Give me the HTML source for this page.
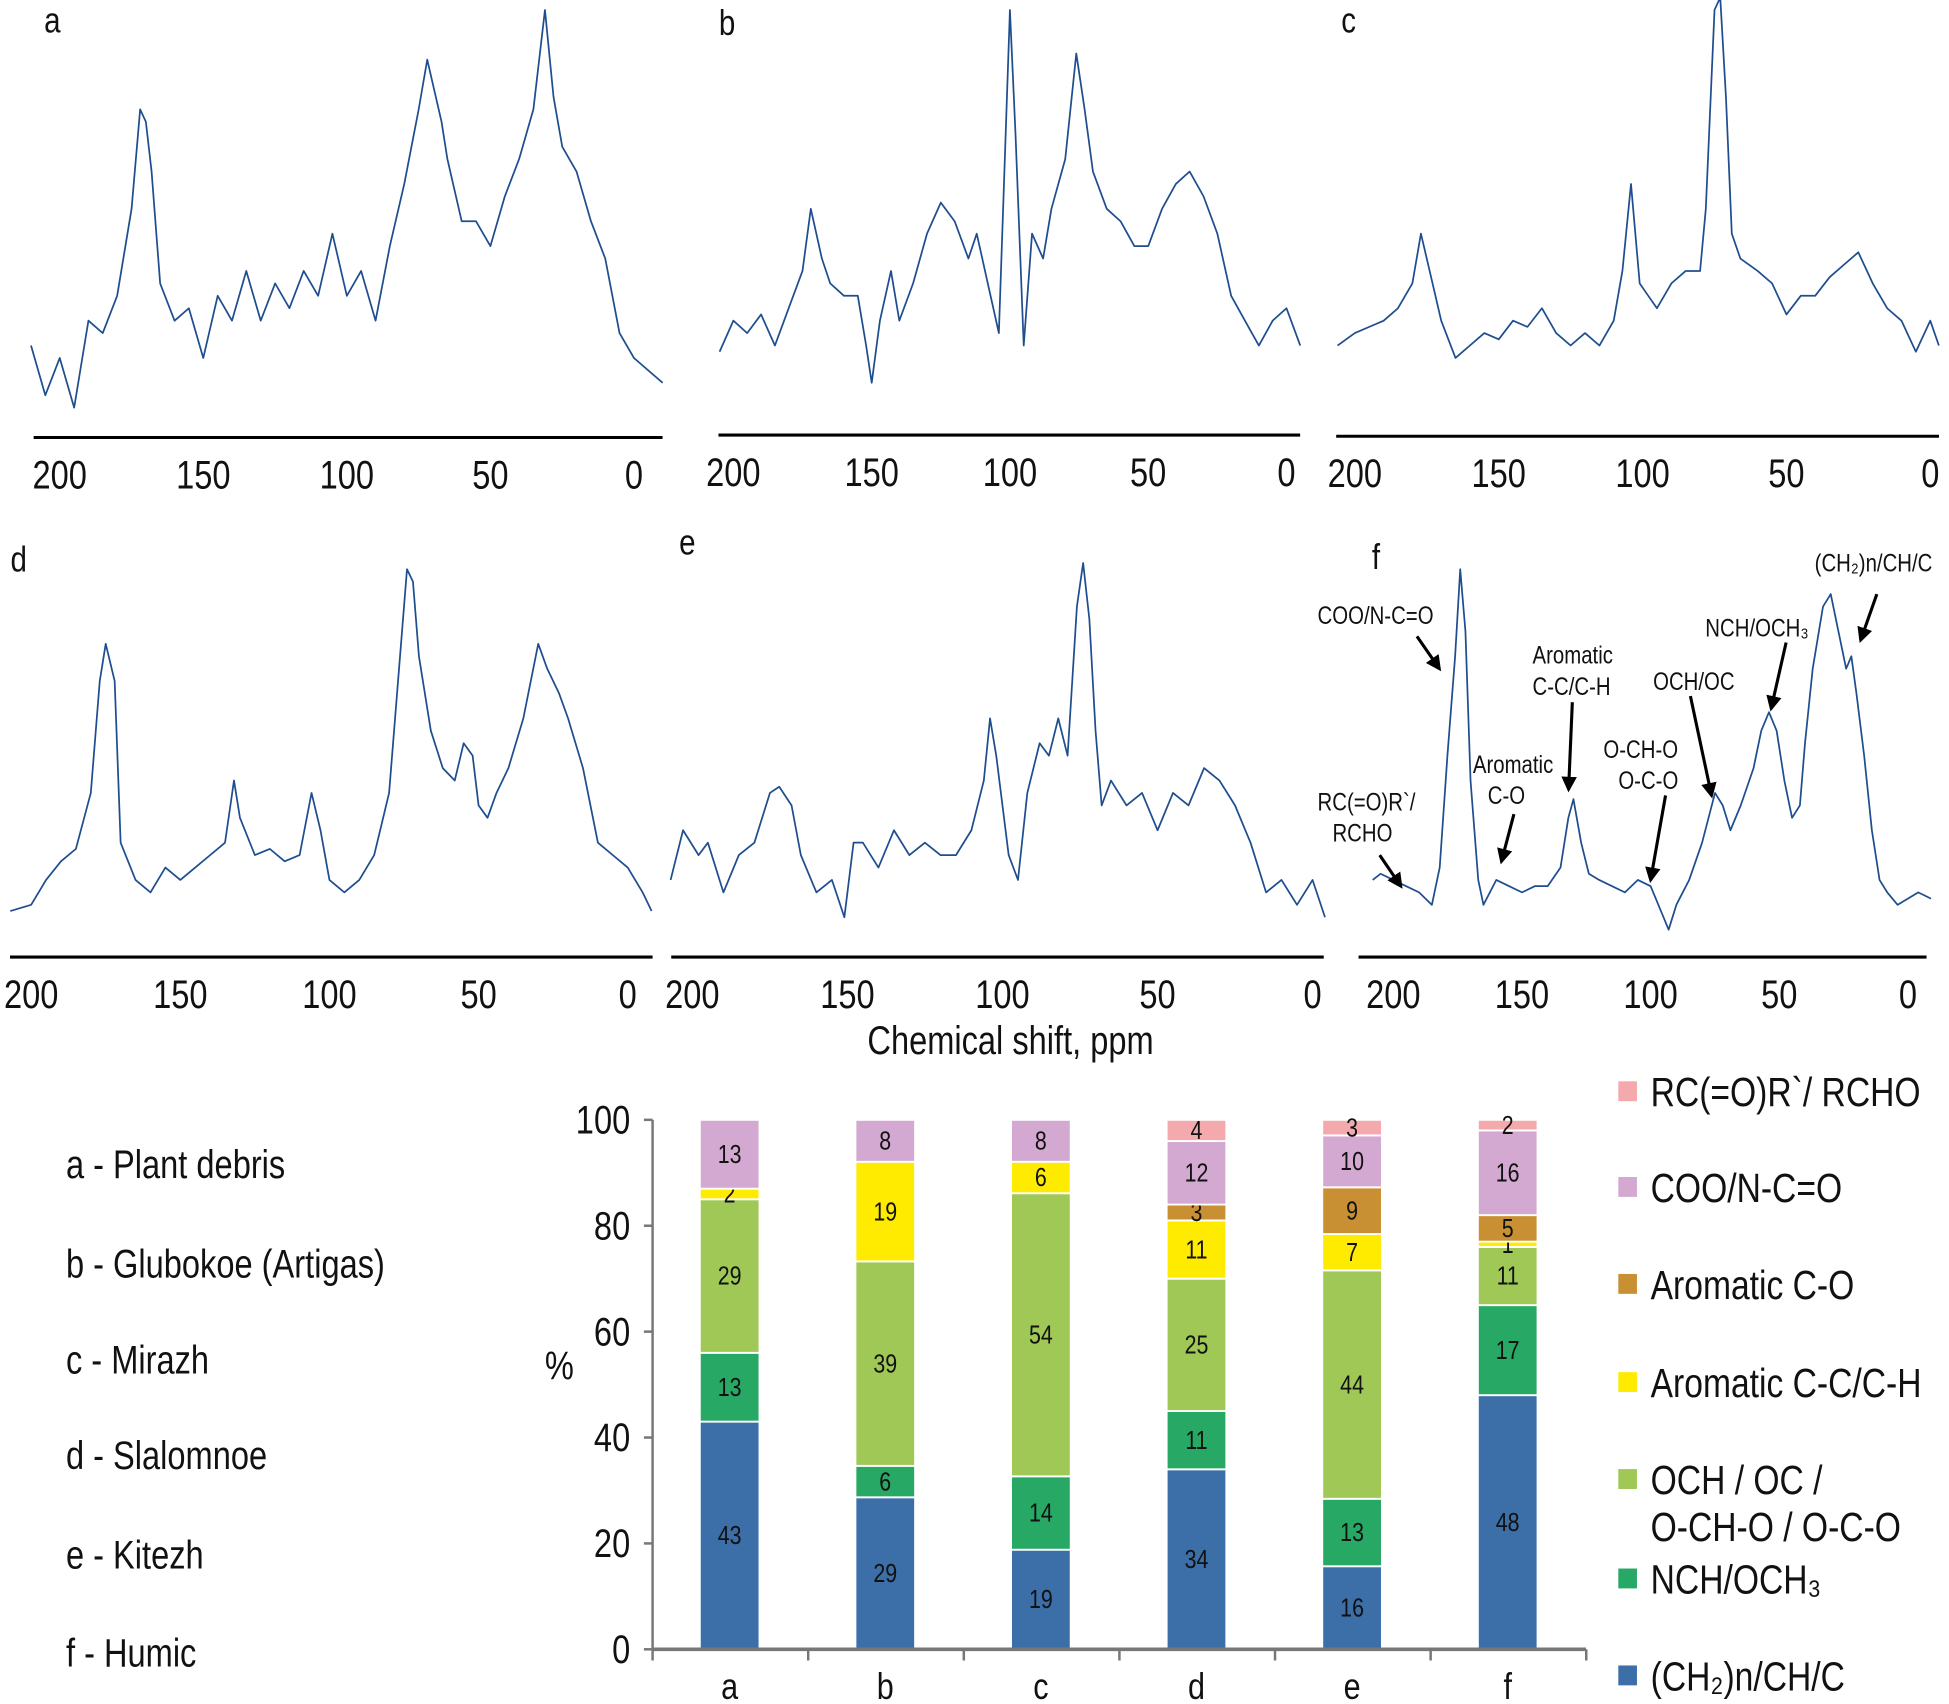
<!DOCTYPE html>
<html><head><meta charset="utf-8"><style>
html,body{margin:0;padding:0;background:#fff}
svg{display:block}
text{font-family:"Liberation Sans Narrow","Liberation Sans",sans-serif;fill:#111;transform-box:fill-box}
</style></head><body>
<svg id="fig" width="1949" height="1704" viewBox="0 0 1568 1371" xmlns="http://www.w3.org/2000/svg">
<g id="spectra"></g>
<text x="813" y="848" text-anchor="middle" font-size="32">Chemical shift, ppm</text>
<g id="annot"></g>
<g id="bars"></g>
<g id="samples"></g>
<g id="legend"></g>
</svg>
<script>
// ---------- Spectra data (ppm, intensity above baseline) ----------
const ppmA=[210,205,200,195,190,185,180,175,172,170,168,165,160,155,150,145,140,135,130,125,120,115,110,105,100,95,90,85,80,75,72,70,67,65,60,55,50,45,40,35,31,28,25,20,15,10,5,0,-5,-10];
const intA=[62,22,52,12,82,72,102,172,252,242,202,112,82,92,52,102,82,122,82,112,92,122,102,152,102,122,82,142,192,252,292,272,242,212,162,162,142,182,212,252,332,262,222,202,162,132,72,52,42,32];
const ppmB=[205,200,195,190,185,180,175,172,168,165,160,155,152,150,147,143,140,135,130,125,120,115,112,108,104,100,98,95,92,88,85,80,76,73,70,65,60,55,50,45,40,35,30,25,20,15,10,5,0,-5];
const intB=[55,80,70,85,60,90,120,170,130,110,100,100,60,30,80,120,80,110,150,175,160,130,150,110,70,330,230,60,150,130,170,210,295,250,200,170,160,140,140,170,190,200,180,150,100,80,60,80,90,60];
const ppmC=[206,200,195,190,185,180,177,174,170,165,160,155,150,145,140,135,130,125,120,115,110,107,104,101,98,95,90,85,80,78,75,73,71,69,66,60,55,50,45,40,35,30,25,20,15,10,5,0,-3];
const intC=[61,71,76,81,91,111,151,121,81,51,61,71,66,81,76,91,71,61,71,61,81,121,191,111,101,91,111,121,121,171,331,341,261,151,131,121,111,86,101,101,116,126,136,111,91,81,56,81,61];
const ppmD=[207,200,195,190,185,180,177,175,172,170,165,160,155,150,145,140,135,132,130,125,120,115,110,106,103,100,95,90,85,80,77,74,72,70,66,62,58,55,52,50,47,44,40,35,30,27,23,20,15,10,5,0,-5,-8];
const intD=[25,30,50,65,75,120,210,240,210,80,50,40,60,50,60,70,80,130,100,70,75,65,70,120,90,50,40,50,70,120,210,300,290,230,170,140,130,160,150,110,100,120,140,180,240,220,200,180,140,80,70,60,40,25];
const ppmE=[207,203,198,195,190,185,180,175,172,168,165,160,155,151,148,145,140,135,130,125,120,115,110,106,104,102,98,95,92,88,85,82,79,76,74,72,70,68,65,60,55,50,45,40,35,30,25,20,15,10,5,0,-4];
const intE=[50,90,70,80,40,70,80,120,125,110,70,40,50,20,80,80,60,90,70,80,70,70,90,130,180,150,70,50,120,160,150,180,150,270,305,260,170,110,130,110,120,90,120,110,140,130,110,80,40,50,30,50,20];
const ppmF=[208,205,200,195,190,185,182,179,176,174,172,170,167,165,160,155,150,145,140,135,132,130,127,124,120,115,110,105,100,96,93,90,85,80,75,72,69,65,60,57,54,51,48,45,42,40,37,33,30,27,24,22,20,17,14,11,8,4,0,-4,-9];
const intF=[50,55,50,45,40,30,60,150,230,300,250,130,50,30,50,45,40,45,45,60,100,115,80,55,50,45,40,50,45,25,10,30,50,80,120,110,90,110,140,170,185,170,130,100,110,160,220,270,280,250,220,230,200,150,90,50,40,30,35,40,35];
const panels=[
 {n:'a',ppm:ppmA,int:intA,ax:352,x0:510,k:2.31,l:27,r:533,lbl:[42,26]},
 {n:'b',ppm:ppmB,int:intB,ax:350,x0:1035,k:2.225,l:578,r:1046,lbl:[585,28]},
 {n:'c',ppm:ppmC,int:intC,ax:351,x0:1553,k:2.315,l:1075,r:1560,lbl:[1085,26]},
 {n:'d',ppm:ppmD,int:intD,ax:770,x0:505,k:2.4,l:8,r:525,lbl:[15,460]},
 {n:'e',ppm:ppmE,int:intE,ax:770,x0:1056,k:2.495,l:540,r:1065,lbl:[553,446]},
 {n:'f',ppm:ppmF,int:intF,ax:770,x0:1535,k:2.07,l:1093,r:1550,lbl:[1107,458]}];
const ticks=[200,150,100,50,0];
const NS='http://www.w3.org/2000/svg';
function mk(t,a,p){const e=document.createElementNS(NS,t);for(const k in a)e.setAttribute(k,a[k]);(p||document.getElementById('fig')).appendChild(e);return e;}
const sg=document.getElementById('spectra');
panels.forEach(P=>{
 const g=mk('g',{},sg);
 
 
 const xs=p=>P.x0-p*P.k, ys=v=>P.ax-12-v;
 const d=P.ppm.map((p,i)=>(i?'L':'M')+xs(p).toFixed(1)+','+ys(P.int[i]).toFixed(1)).join(' ');
 const path=mk('path',{d:d,fill:'none',stroke:'#1f4e8f','stroke-width':1.4,'stroke-linejoin':'round'},g);
 
 
 const ax=mk('line',{x1:P.l,x2:P.r,y1:P.ax,y2:P.ax,stroke:'#000','stroke-width':2.5},g);
 
 
 ticks.forEach(t=>{const tx=mk('text',{x:xs(t),y:P.ax+41,'text-anchor':'middle','font-size':32},g);tx.textContent=t;
  
  });
 const lb=mk('text',{x:P.lbl[0],y:P.lbl[1],'font-size':29,'text-anchor':'middle'},g);lb.textContent=P.n;
 
 
});
// ---------- Annotations panel f ----------
const ag=document.getElementById('annot');
const notes=[
 {t:['(CH\u2082)n/CH/C'],x:1460,y:460,a:[1510,478,1497,515]},
 {t:['NCH/OCH\u2083'],x:1372,y:512,a:[1437,517,1425,570]},
 {t:['OCH/OC'],x:1330,y:555,a:[1360,560,1377,640]},
 {t:['O-CH-O','O-C-O'],x:1290,y:610,a:[1340,640,1328,708]},
 {t:['Aromatic','C-C/C-H'],x:1233,y:534,a:[1265,565,1262,635]},
 {t:['Aromatic','C-O'],x:1185,y:622,a:[1218,655,1208,693]},
 {t:['COO/N-C=O'],x:1060,y:502,a:[1140,512,1158,538]},
 {t:['RC(=O)R`/','RCHO'],x:1060,y:652,a:[1110,688,1127,713]}];
mk('defs',{},ag).innerHTML='<marker id="ah" viewBox="0 0 10 10" refX="8" refY="5" markerWidth="5" markerHeight="5" orient="auto"><path d="M0,0L10,5L0,10z" fill="#000"/></marker>';
notes.forEach(n=>{
 n.t.forEach((s,i)=>{const e=mk('text',{x:n.x+(i&&n.t[1].length<6?12:0),y:n.y+i*25,'font-size':20},ag);e.textContent=s;
  
  });
 const l=mk('line',{x1:n.a[0],y1:n.a[1],x2:n.a[2],y2:n.a[3],stroke:'#000','stroke-width':2.5,'marker-end':'url(#ah)'},ag);
 
 
});
// ---------- Bar chart data ----------
const categories=['a','b','c','d','e','f'];
const sCH2=[43,29,19,34,16,48];
const sNCH=[13,6,14,11,13,17];
const sOCH=[29,39,54,25,44,11];
const sArCC=[2,19,6,11,7,1];
const sArCO=[0,0,0,3,9,5];
const sCOO=[13,8,8,12,10,16];
const sRC=[0,0,0,4,3,2];
const yTicks=[0,20,40,60,80,100];
const series=[sCH2,sNCH,sOCH,sArCC,sArCO,sCOO,sRC];
const colors=['#3c6ea8','#27a864','#9fc856','#ffeb00','#c98f33','#d3a9d2','#f4a9ad'];
const bg=document.getElementById('bars');
const Y=v=>1327-v*4.26, X=i=>587+i*125.2;
yTicks.forEach(t=>{
 const e=mk('text',{x:507,y:Y(t)+11,'text-anchor':'end','font-size':32},bg);e.textContent=t;
 
 
 mk('line',{x1:518,x2:525,y1:Y(t),y2:Y(t),stroke:'#777','stroke-width':2},bg);
});
const yl=mk('line',{x1:525,x2:525,y1:Y(100),y2:Y(0),stroke:'#777','stroke-width':2},bg);


const pc=mk('text',{x:450,y:1110,'text-anchor':'middle','font-size':32},bg);pc.textContent='%';


categories.forEach((c,i)=>{
 let cum=0;
 const tot=series.reduce((a,s)=>a+s[i],0);
 const f=100/tot;
 series.forEach((s,j)=>{
  const v=s[i]; if(!v){return;}
  const h=v*f;
  const r=mk('rect',{x:X(i)-24,y:Y(cum+h),width:48,height:h*4.26,fill:colors[j],stroke:'#fff','stroke-width':1.5},bg);
  
  
  const t=mk('text',{x:X(i),y:Y(cum+h/2)+7,'text-anchor':'middle','font-size':21},bg);t.textContent=v;
  
  
  cum+=h;
 });
 const cl=mk('text',{x:X(i),y:1367,'text-anchor':'middle','font-size':30},bg);cl.textContent=c;
 
 
});
const xl=mk('line',{x1:525,x2:1276,y1:Y(0),y2:Y(0),stroke:'#777','stroke-width':3},bg);


for(let k=0;k<7;k++)mk('line',{x1:525+k*125.2,x2:525+k*125.2,y1:1327,y2:1336,stroke:'#777','stroke-width':2},bg);
// ---------- Sample legend ----------
const sampleNames=['a - Plant debris','b - Glubokoe (Artigas)','c - Mirazh','d - Slalomnoe','e - Kitezh','f - Humic'];
const sY=[948,1028,1105,1182,1262,1341];
const sgp=document.getElementById('samples');
sampleNames.forEach((s,i)=>{const e=mk('text',{x:53,y:sY[i],'font-size':32},sgp);e.textContent=s;
 
 });
// ---------- Series legend ----------
const lg=document.getElementById('legend');
const lEntries=[
 {c:6,t:['RC(=O)R`/ RCHO'],y:878},
 {c:5,t:['COO/N-C=O'],y:955},
 {c:4,t:['Aromatic C-O'],y:1033},
 {c:3,t:['Aromatic C-C/C-H'],y:1112},
 {c:2,t:['OCH / OC /','O-CH-O / O-C-O'],y:1190},
 {c:1,t:['NCH/OCH\u2083'],y:1270},
 {c:0,t:['(CH\u2082)n/CH/C'],y:1348}];
lEntries.forEach(e=>{
 const g=mk('g',{},lg);
 
 
 mk('rect',{x:1302,y:e.y-8,width:15,height:16,fill:colors[e.c]},g);
 e.t.forEach((s,i)=>{const t=mk('text',{x:1328,y:e.y+12+i*38,'font-size':33},g);t.textContent=s;});
});
// ---------- condense text horizontally (narrow face) ----------
document.querySelectorAll('text').forEach(t=>{
 const a=t.getAttribute('text-anchor')||'start';
 t.style.transformOrigin=a==='middle'?'center':(a==='end'?'right center':'left center');
 t.style.transform='scaleX(0.82)';
});
</script>
</body></html>
